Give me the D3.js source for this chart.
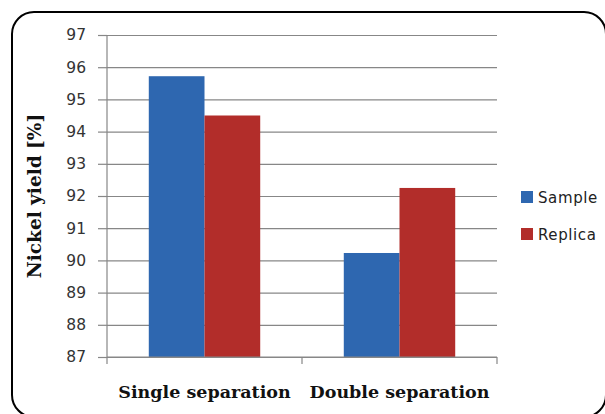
<!DOCTYPE html>
<html>
<head>
<meta charset="utf-8">
<script src="https://cdn.jsdelivr.net/npm/d3@7"></script>
<style>
  html, body { margin: 0; padding: 0; background: #fff; }
  svg { display: block; }
</style>
</head>
<body>
<svg id="chart" width="605" height="414"></svg>
<script>
// Nickel yield by separation mode
const categories = ["Single separation", "Double separation"];
const seriesNames = ["Sample", "Replica"];
const sampleValues = [95.72, 90.23];
const replicaValues = [94.5, 92.25];
const yTicks = [87, 88, 89, 90, 91, 92, 93, 94, 95, 96, 97];
const colors = ["#2e67b0", "#b22d2a"];

const svg = d3.select("#chart");

// outer frame
svg.append("rect")
  .attr("x", 12).attr("y", 12)
  .attr("width", 594).attr("height", 405)
  .attr("rx", 22).attr("ry", 22)
  .attr("fill", "#fff").attr("stroke", "#000").attr("stroke-width", 2);

const plot = { left: 107, right: 497, top: 35, bottom: 357 };

const x = d3.scaleBand().domain(categories).range([plot.left, plot.right]).paddingInner(0).paddingOuter(0);
const x1 = d3.scaleBand().domain(seriesNames).range([0, x.bandwidth()]).paddingOuter(0.75).paddingInner(0);
const y = d3.scaleLinear().domain([87, 97]).range([plot.bottom, plot.top]);

const gridColor = "#878787";

// horizontal gridlines with left tick marks
const yAxis = d3.axisLeft(y).tickValues(yTicks).tickSize(-(plot.right - plot.left)).tickPadding(21).tickFormat(d3.format("d"));
const gy = svg.append("g").attr("transform", `translate(${plot.left},0)`).call(yAxis);
gy.select(".domain").remove();
gy.selectAll(".tick line").attr("stroke", gridColor).attr("stroke-width", 1.2);
gy.selectAll(".tick").append("line")
  .attr("x1", -9).attr("x2", 0).attr("stroke", gridColor).attr("stroke-width", 1.2);
gy.selectAll(".tick text")
  .attr("fill", "#333").attr("font-family", "DejaVu Sans, Verdana, sans-serif").attr("font-size", 15.5);

// bars
const series = [sampleValues, replicaValues];
const groups = svg.append("g").selectAll("g")
  .data(categories).join("g")
  .attr("transform", d => `translate(${x(d)},0)`);
groups.selectAll("rect")
  .data((d, i) => seriesNames.map((s, j) => ({ s, j, v: series[j][i] })))
  .join("rect")
  .attr("x", d => x1(d.s))
  .attr("width", x1.bandwidth())
  .attr("y", d => y(d.v))
  .attr("height", d => y(87) - y(d.v))
  .attr("fill", d => colors[d.j]);

// y axis line
svg.append("line")
  .attr("x1", plot.left).attr("x2", plot.left)
  .attr("y1", plot.top).attr("y2", plot.bottom)
  .attr("stroke", gridColor).attr("stroke-width", 1.2);

// x axis with boundary ticks
svg.append("line")
  .attr("x1", plot.left).attr("x2", plot.right)
  .attr("y1", plot.bottom).attr("y2", plot.bottom)
  .attr("stroke", gridColor).attr("stroke-width", 1.2);
const bounds = categories.map(c => x(c)).concat([x(categories[categories.length - 1]) + x.bandwidth()]);
svg.append("g").selectAll("line").data(bounds).join("line")
  .attr("x1", d => d).attr("x2", d => d)
  .attr("y1", plot.bottom).attr("y2", plot.bottom + 7)
  .attr("stroke", gridColor).attr("stroke-width", 1.2);

svg.append("g").selectAll("text").data(categories).join("text")
  .attr("x", d => x(d) + x.bandwidth() / 2)
  .attr("y", 398)
  .attr("text-anchor", "middle")
  .attr("font-family", "DejaVu Serif, serif")
  .attr("font-weight", "bold")
  .attr("font-size", 17.5)
  .attr("fill", "#111")
  .text(d => d);

// y axis title
svg.append("text")
  .attr("transform", "translate(41,196) rotate(-90)")
  .attr("text-anchor", "middle")
  .attr("font-family", "DejaVu Serif, serif")
  .attr("font-weight", "bold")
  .attr("font-size", 18.5)
  .attr("fill", "#111")
  .text("Nickel yield [%]");

// legend
const legend = svg.append("g").selectAll("g").data(seriesNames).join("g")
  .attr("transform", (d, i) => `translate(521,${191 + i * 37})`);
legend.append("rect").attr("width", 12).attr("height", 12).attr("fill", (d, i) => colors[i]);
legend.append("text")
  .attr("x", 17).attr("y", 11.5)
  .attr("font-family", "DejaVu Sans, Verdana, sans-serif")
  .attr("font-size", 15)
  .attr("letter-spacing", 0.6)
  .attr("fill", "#222")
  .text(d => d);
</script>
</body>
</html>
